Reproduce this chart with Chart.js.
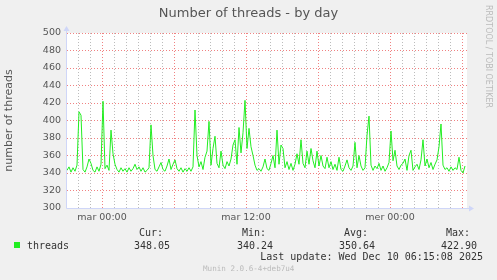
<!DOCTYPE html>
<html>
<head>
<meta charset="utf-8">
<script src="https://cdn.jsdelivr.net/npm/chart.js@4/dist/chart.umd.min.js"></script>
<style>
html, body { margin: 0; padding: 0; background: #f0f0f0; }
#wrap { position: relative; width: 497px; height: 280px; overflow: hidden; background: #f0f0f0; }
#grafico { position: absolute; left: 0; top: 0; }
.txt { position: absolute; white-space: pre; font-family: "DejaVu Sans Mono", monospace; font-size: 10px; line-height: 12px; color: #333; }
.dir { text-align: right; }
</style>
</head>
<body>
<div id="wrap">
  <canvas id="grafico" width="497" height="280"></canvas>
  <div id="titulo" class="txt" style="font-family:'DejaVu Sans';font-size:13px;line-height:16px;color:#555;left:0;width:497px;text-align:center;top:5px;">Number of threads - by day</div>
  <div id="rrd" class="txt" style="font-family:'DejaVu Sans';font-size:8px;line-height:10px;color:#bbb;writing-mode:vertical-rl;left:483px;top:5px;">RRDTOOL / TOBI OETIKER</div>
  <div id="quadrado" style="position:absolute;left:14px;top:242px;width:6px;height:6px;background:#22ee22;"></div>
  <div class="txt" style="left:27px;top:240px;">threads</div>
  <div id="legenda"></div>
  <div class="txt dir" style="right:14px;top:251px;">Last update: Wed Dec 10 06:15:08 2025</div>
  <div class="txt" style="font-size:7.6px;line-height:10px;color:#bbb;left:203px;top:264px;">Munin 2.0.6-4+deb7u4</div>
</div>
<script>
// threads, one sample every 10 minutes, first one at mar 00:00 - 175 min
const threads = [
  343, 347, 341, 346, 342, 349, 410, 406, 344, 341,
  347, 356, 351, 343, 341, 347, 342, 350, 422, 345,
  349, 343, 389, 362, 350, 344, 341, 346, 342, 345,
  341, 346, 342, 345, 350, 344, 347, 342, 346, 341,
  343, 346, 395, 360, 344, 342, 347, 352, 344, 342,
  348, 356, 344, 350, 355, 345, 342, 346, 341, 345,
  342, 346, 342, 347, 412, 360, 347, 353, 344, 358,
  365, 399, 349, 368, 382, 351, 346, 365, 349, 345,
  353, 348, 356, 372, 378, 350, 392, 363, 386, 423,
  368, 391, 370, 360, 349, 343, 345, 342, 347, 356,
  345, 343, 351, 360, 346, 389, 350, 372, 368, 346,
  353, 344, 351, 343, 350, 362, 350, 378, 351, 346,
  365, 350, 368, 354, 346, 365, 348, 360, 348, 345,
  358, 346, 353, 344, 350, 343, 358, 344, 342, 348,
  355, 346, 343, 348, 375, 346, 360, 348, 343, 346,
  383, 405, 349, 343, 348, 345, 351, 343, 348, 342,
  346, 352, 388, 354, 366, 348, 344, 349, 351, 356,
  343, 360, 366, 343, 347, 350, 344, 355, 378, 348,
  356, 346, 352, 344, 350, 355, 370, 396, 349, 344,
  346, 342, 347, 343, 346, 344, 358, 343, 340, 348
];
const primeiraAmostra = -175;
const passo = 10;

const tickMinutos = [0, 720, 1440];
const tickTextos = ['mar 00:00', 'mar 12:00', 'mer 00:00'];

const colunas = ['Cur:', 'Min:', 'Avg:', 'Max:'];
const valores = ['348.05', '340.24', '350.64', '422.90'];
const colunaX = [170, 273, 375, 477];

const verde = '#22ee22';
const vermelhoGrade = '#f08282';
const cinzaGrade = '#bcbcbc';
const corEixo = '#cfd6f8';

// legend columns
var legenda = document.getElementById('legenda');
for (var i = 0; i < colunas.length; i++) {
  var a = document.createElement('div');
  a.className = 'txt dir';
  a.style.right = (497 - colunaX[i] + 7) + 'px';
  a.style.top = '227px';
  a.textContent = colunas[i];
  legenda.appendChild(a);
  var b = document.createElement('div');
  b.className = 'txt dir';
  b.style.right = (497 - colunaX[i]) + 'px';
  b.style.top = '240px';
  b.textContent = valores[i];
  legenda.appendChild(b);
}

const fundo = {
  id: 'fundo',
  beforeDraw(chart) {
    const c = chart.ctx, a = chart.chartArea;
    c.save();
    c.fillStyle = '#f0f0f0';
    c.fillRect(0, 0, chart.width, chart.height);
    c.fillStyle = '#ffffff';
    c.fillRect(a.left, a.top, a.right - a.left, a.bottom - a.top);
    c.restore();
  },
  afterDraw(chart) {
    const c = chart.ctx, a = chart.chartArea;
    c.save();
    c.strokeStyle = corEixo;
    c.fillStyle = corEixo;
    c.lineWidth = 1;
    c.beginPath();
    c.moveTo(a.left - 0.5, a.bottom + 0.5);
    c.lineTo(a.left - 0.5, a.top - 3);
    c.moveTo(a.left - 0.5, a.bottom + 0.5);
    c.lineTo(a.right + 3, a.bottom + 0.5);
    c.stroke();
    c.beginPath();
    c.moveTo(a.left - 3.5, a.top - 2);
    c.lineTo(a.left + 2.5, a.top - 2);
    c.lineTo(a.left - 0.5, a.top - 7);
    c.closePath();
    c.fill();
    c.beginPath();
    c.moveTo(a.right + 2, a.bottom - 2.5);
    c.lineTo(a.right + 2, a.bottom + 3.5);
    c.lineTo(a.right + 7, a.bottom + 0.5);
    c.closePath();
    c.fill();
    c.restore();
  }
};

new Chart(document.getElementById('grafico'), {
  type: 'line',
  data: {
    datasets: [{
      label: 'threads',
      data: threads.map((v, i) => ({ x: primeiraAmostra + i * passo, y: v })),
      borderColor: verde,
      borderWidth: 1,
      pointRadius: 0,
      tension: 0,
      fill: false
    }]
  },
  options: {
    responsive: false,
    animation: false,
    devicePixelRatio: 1,
    layout: { padding: { top: 33, right: 30, left: 0, bottom: 0 } },
    plugins: { legend: { display: false }, tooltip: { enabled: false } },
    scales: {
      x: {
        type: 'linear',
        min: -175,
        max: 1825,
        afterBuildTicks: function (scale) {
          const t = [];
          for (let m = -120; m <= 1800; m += 60) t.push({ value: m });
          scale.ticks = t;
        },
        afterFit: function (scale) { scale.height = 72; },
        ticks: {
          autoSkip: false,
          maxRotation: 0,
          padding: 4,
          color: '#555',
          font: { family: 'DejaVu Sans', size: 9.5 },
          callback: function (value) {
            const k = tickMinutos.indexOf(value);
            return k >= 0 ? tickTextos[k] : '';
          }
        },
        grid: {
          drawTicks: false,
          color: (ctx) => (ctx.tick && ctx.tick.value % 360 === 0) ? vermelhoGrade : cinzaGrade
        },
        border: { display: false, dash: [1, 2] }
      },
      y: {
        min: 300,
        max: 500,
        afterFit: function (scale) { scale.width = 67; },
        ticks: {
          stepSize: 10,
          padding: 6,
          color: '#555',
          font: { family: 'DejaVu Sans', size: 9.5 },
          callback: function (value) { return value % 20 === 0 ? value : ''; }
        },
        grid: {
          drawTicks: false,
          color: (ctx) => (ctx.tick && ctx.tick.value % 20 === 0) ? vermelhoGrade : cinzaGrade
        },
        border: { display: false, dash: [1, 2] },
        title: {
          display: true,
          text: 'number of threads',
          color: '#555',
          font: { family: 'DejaVu Sans', size: 11 },
          padding: { top: 3, bottom: 0 }
        }
      }
    }
  },
  plugins: [fundo]
});
</script>
</body>
</html>
